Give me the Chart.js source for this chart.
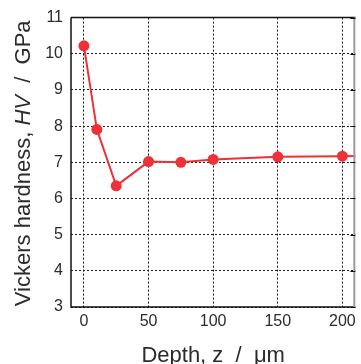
<!DOCTYPE html>
<html>
<head>
<meta charset="utf-8">
<script src="https://cdn.jsdelivr.net/npm/chart.js@4"></script>
<style>
  html, body { margin: 0; padding: 0; background: #fff; }
  #wrap { width: 361px; height: 364px; }
</style>
</head>
<body>
<div id="wrap"><canvas id="hvChart" width="361" height="364"></canvas></div>
<script>
// depth z (um) and hardness HV (GPa)
const depths = [0, 10, 25, 50, 75, 100, 150, 200, 250];
const hardness = [10.22, 7.91, 6.35, 7.02, 7.0, 7.08, 7.15, 7.17, 7.18];
const xTicks = [0, 50, 100, 150, 200];
const yTicks = [3, 4, 5, 6, 7, 8, 9, 10, 11];

const textColor = '#2b2b2b';
const red = '#ec3139';

// axis titles (with the italic symbols) and the frame
const titlesPlugin = {
    id: 'titles',
    afterDraw(chart) {
        const ctx = chart.ctx;
        const area = chart.chartArea;
        const yScale = chart.scales.y;

        ctx.save();
        // frame
        ctx.lineWidth = 1.5;
        ctx.strokeStyle = '#111';
        ctx.beginPath();
        ctx.moveTo(area.left, area.top);
        ctx.lineTo(area.right, area.top);
        ctx.moveTo(area.left, area.top);
        ctx.lineTo(area.left, area.bottom);
        ctx.lineTo(area.right, area.bottom);
        ctx.stroke();
        ctx.lineWidth = 2;
        ctx.strokeStyle = '#9a9a9a';
        ctx.beginPath();
        ctx.moveTo(area.right - 1, area.top);
        ctx.lineTo(area.right - 1, area.bottom);
        ctx.stroke();
        ctx.lineWidth = 1;
        ctx.strokeStyle = '#111';
        ctx.beginPath();
        yTicks.forEach(v => {
            const py = Math.round(yScale.getPixelForValue(v)) + 0.5;
            ctx.moveTo(area.right - 5, py);
            ctx.lineTo(area.right, py);
        });
        ctx.stroke();

        ctx.fillStyle = textColor;
        ctx.textBaseline = 'alphabetic';

        const drawParts = (parts, cx, cy) => {
            let total = 0;
            parts.forEach(p => { ctx.font = p[1]; total += ctx.measureText(p[0]).width; });
            let x = cx - total / 2;
            parts.forEach(p => {
                ctx.font = p[1];
                ctx.textAlign = 'left';
                ctx.fillText(p[0], x, cy);
                x += ctx.measureText(p[0]).width;
            });
        };
        const normal = '22px "Liberation Sans", Arial, sans-serif';
        const italic = 'italic 22px "Liberation Sans", Arial, sans-serif';

        // x title
        drawParts([['Depth, ', normal], ['z', normal], ['  /  \u03bcm', normal]],
            (area.left + area.right) / 2, 362);

        // y title
        ctx.translate(30, (area.top + area.bottom) / 2 + 1);
        ctx.rotate(-Math.PI / 2);
        drawParts([['Vickers hardness, ', normal], ['HV', italic], ['  /  GPa', normal]], 0, 0);
        ctx.restore();
    }
};

const ctx = document.getElementById('hvChart').getContext('2d');
new Chart(ctx, {
    type: 'line',
    data: {
        datasets: [{
            label: 'HV',
            data: depths.map((z, i) => ({ x: z, y: hardness[i] })),
            borderColor: red,
            backgroundColor: red,
            borderWidth: 2,
            pointRadius: 5.5,
            pointHoverRadius: 5.5,
            pointBorderWidth: 0,
            tension: 0
        }]
    },
    options: {
        responsive: false,
        animation: false,
        events: [],
        layout: { padding: { top: 17, right: 2, left: 0, bottom: 0 } },
        plugins: { legend: { display: false }, tooltip: { enabled: false } },
        scales: {
            x: {
                type: 'linear',
                min: -10,
                max: 210,
                afterBuildTicks: scale => { scale.ticks = xTicks.map(v => ({ value: v })); },
                afterFit: scale => { scale.height = 57; },
                grid: { color: '#1a1a1a', lineWidth: 1, drawTicks: false },
                border: { display: false, dash: [2, 2] },
                ticks: {
                    padding: 5,
                    color: textColor,
                    font: { family: '"Liberation Sans", Arial, sans-serif', size: 16 },
                    maxRotation: 0
                }
            },
            y: {
                type: 'linear',
                min: 3,
                max: 11,
                afterBuildTicks: scale => { scale.ticks = yTicks.map(v => ({ value: v })); },
                afterFit: scale => { scale.width = 71; },
                grid: { color: '#1a1a1a', lineWidth: 1, drawTicks: false },
                border: { display: false, dash: [2, 2] },
                ticks: {
                    padding: 8,
                    color: textColor,
                    font: { family: '"Liberation Sans", Arial, sans-serif', size: 16 }
                }
            }
        }
    },
    plugins: [titlesPlugin]
});
</script>
</body>
</html>
